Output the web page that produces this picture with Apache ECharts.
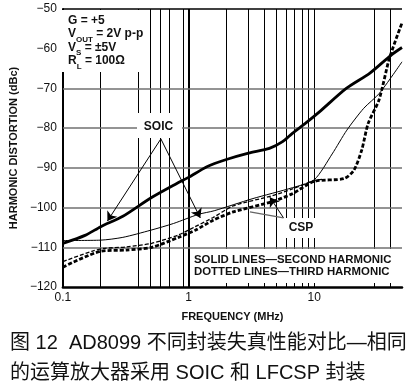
<!DOCTYPE html>
<html>
<head>
<meta charset="utf-8">
<script src="https://cdn.jsdelivr.net/npm/echarts@6/dist/echarts.min.js"></script>
<style>html,body{margin:0;padding:0;background:#fff;}#c{width:415px;height:389px;}</style>
</head>
<body>
<div id="c"></div>
<script>
// ---- data (frequency MHz, distortion dBc) ----
const freqSOIC2 = [0.1, 0.15, 0.2, 0.3, 0.5, 0.8, 1, 1.4, 2, 3, 4.4, 5.6, 6.7, 8.5, 11, 18, 27.6, 41, 50];
const dbSOIC2   = [-109, -107, -104.8, -102.2, -97.6, -94, -92.4, -89.7, -87.9, -86.3, -85.1, -83.4, -81.3, -78.8, -75.9, -70, -66.2, -61.6, -59.7];

const freqCSP2 = [0.1, 0.2, 0.3, 0.5, 0.76, 1.2, 1.6, 3.2, 6.7, 10, 13.9, 18.2, 24.8, 33.1, 50];
const dbCSP2   = [-108.3, -108.2, -107.5, -105.7, -104, -101.7, -100.8, -97.8, -95, -93, -86.5, -80.5, -75, -71.2, -63.3];

const freqSOIC3 = [0.1, 0.2, 0.32, 0.51, 0.83, 1.13, 1.57, 2.26, 4.66, 6.7, 10, 17.3, 20.7, 23.9, 26.9, 32.8, 39.7, 50];
const dbSOIC3   = [-115, -111, -110.7, -110, -107.5, -105.7, -103.2, -101.1, -98.5, -96.5, -93.4, -92.7, -90.6, -85.5, -78.8, -72.9, -62.4, -53.5];

const freqCSP3 = [0.1, 0.17, 0.21, 0.32, 0.51, 0.83, 1.13, 1.57, 2.26, 4.66, 6.7, 10, 11.6];
const dbCSP3   = [-113.6, -111, -110.3, -109.9, -109, -106.9, -104.8, -102.5, -99.6, -97, -95.3, -93.2, -92.9];

// grid lines present in the original figure
const vGrid = [0.2, 0.4, 0.5, 0.6, 0.7, 0.9, 1, 2, 3, 4, 5, 6, 7, 8, 9, 10, 30, 40];
const hGrid = [-70, -80, -90, -100, -110];
const xTickLabels = [0.1, 1, 10];

// annotation arrows [from, to] in data coordinates
const soicArrows = [[[0.602, -82.7], [0.226, -103.4]], [[0.602, -82.7], [1.24, -102.6]]];
const cspArrow = [[5.7, -102.6], [4.44, -97.4]];
const cspTail = [[5.7, -102.6], [3.08, -101.1]];

const zip = (a, b) => a.map((v, i) => [v, b[i]]);
const FONT = "'Liberation Sans', Arial, 'Noto Sans CJK SC', sans-serif";

const chart = echarts.init(document.getElementById('c'), null, {renderer: 'canvas'});

const gridLineData = vGrid.map(v => ({
  xAxis: v,
  lineStyle: {color: '#000', width: v === 1 ? 2 : 1, type: 'solid'}
})).concat(hGrid.map(v => ({
  yAxis: v,
  lineStyle: {color: '#707070', width: 1.5, type: 'solid'}
}))).concat([{yAxis: -50, lineStyle: {color: '#000', width: 1.5, type: 'solid'}}]);

chart.setOption({
  animation: false,
  backgroundColor: '#fff',
  grid: {left: 58, right: 13, top: 9, bottom: 102},
  xAxis: {
    type: 'log', logBase: 10, min: 0.1, max: 50,
    axisLine: {onZero: false, lineStyle: {color: '#000', width: 2.5}},
    axisTick: {show: false},
    splitLine: {show: false},
    axisLabel: {
      color: '#111', fontSize: 12, fontFamily: FONT, margin: 5,
      formatter: v => { const r = +Number(v).toPrecision(3); return xTickLabels.includes(r) ? String(r) : ''; }
    },
    name: 'FREQUENCY (MHz)', nameLocation: 'middle', nameGap: 24,
    nameTextStyle: {color: '#111', fontSize: 11, fontWeight: 'bold', fontFamily: FONT}
  },
  yAxis: {
    type: 'value', min: -120, max: -50, interval: 10,
    axisLine: {show: true, onZero: false, lineStyle: {color: '#000', width: 2}},
    axisTick: {show: false},
    splitLine: {show: false},
    axisLabel: {color: '#111', fontSize: 12, fontFamily: FONT, margin: 6,
      formatter: v => '\u2212' + Math.abs(v)},
    name: 'HARMONIC DISTORTION (dBc)', nameLocation: 'middle', nameGap: 35,
    nameTextStyle: {color: '#111', fontSize: 11, fontWeight: 'bold', fontFamily: FONT}
  },
  series: [
    {
      type: 'line', data: [[0.1, -120]], showSymbol: false, lineStyle: {opacity: 0}, silent: true,
      markLine: {silent: true, symbol: ['none', 'none'], z: 1, label: {show: false}, animation: false,
        data: gridLineData}
    },
    {
      name: 'SOIC second', type: 'line', z: 5, data: zip(freqSOIC2, dbSOIC2), showSymbol: false, smooth: 0.25,
      lineStyle: {color: '#000', width: 2.8}
    },
    {
      name: 'CSP second', type: 'line', z: 5, data: zip(freqCSP2, dbCSP2), showSymbol: false, smooth: 0.25,
      lineStyle: {color: '#000', width: 1}
    },
    {
      name: 'SOIC third', type: 'line', z: 5, data: zip(freqSOIC3, dbSOIC3), showSymbol: false, smooth: 0.25,
      lineStyle: {color: '#000', width: 2.8, type: [4, 2]}
    },
    {
      name: 'CSP third', type: 'line', z: 5, data: zip(freqCSP3, dbCSP3), showSymbol: false, smooth: 0.25,
      lineStyle: {color: '#000', width: 1.3, type: [4, 2]}
    },
    {
      type: 'lines', coordinateSystem: 'cartesian2d', z: 8, silent: true,
      symbol: ['none', 'arrow'], symbolSize: 9,
      lineStyle: {color: '#000', width: 1, opacity: 1},
      itemStyle: {color: '#000'},
      data: soicArrows.concat([cspArrow]).map(p => ({coords: p}))
    },
    {
      type: 'lines', coordinateSystem: 'cartesian2d', z: 8, silent: true,
      symbol: ['none', 'none'],
      lineStyle: {color: '#666', width: 1.3, opacity: 1},
      data: [{coords: cspTail}]
    }
  ],
  graphic: [
    // white boxes under annotation texts
    {type: 'rect', z: 3, shape: {x: 59, y: 10, width: 84, height: 62}, style: {fill: '#fff'}},
    {type: 'rect', z: 3, shape: {x: 137, y: 113, width: 45, height: 25}, style: {fill: '#fff'}},
    {type: 'rect', z: 3, shape: {x: 280, y: 218, width: 38, height: 20}, style: {fill: '#fff'}},
    {type: 'rect', z: 3, shape: {x: 192, y: 249, width: 211, height: 34}, style: {fill: '#fff'}},
    {type: 'text', z: 20, left: 68, top: 14, style: {
      text: 'G = +5\nV{s|OUT} = 2V p-p\nV{s|S} = \u00b15V\nR{s|L} = 100\u03a9',
      font: 'bold 12px ' + FONT, fill: '#111', lineHeight: 13.4,
      rich: {s: {font: 'bold 8px ' + FONT, fill: '#111', verticalAlign: 'bottom', lineHeight: 13.4, padding: [0, 0, -3, 0]}}
    }},
    {type: 'text', z: 20, x: 158.5, y: 127, style: {text: 'SOIC', font: 'bold 12px ' + FONT, fill: '#111', align: 'center', verticalAlign: 'middle'}},
    {type: 'text', z: 20, x: 301, y: 228, style: {text: 'CSP', font: 'bold 12px ' + FONT, fill: '#111', align: 'center', verticalAlign: 'middle'}},
    {type: 'text', z: 20, x: 194, y: 254, style: {text: 'SOLID LINES\u2014SECOND HARMONIC\nDOTTED LINES\u2014THIRD HARMONIC',
      font: 'bold 11.4px ' + FONT, fill: '#111', lineHeight: 12}},
    {type: 'text', z: 20, x: 10, y: 343, style: {text: '图 12  AD8099 不同封装失真性能对比—相同',
      font: '20px ' + FONT, fill: '#111', verticalAlign: 'middle'}},
    {type: 'text', z: 20, x: 10, y: 373, style: {text: '的运算放大器采用 SOIC 和 LFCSP 封装',
      font: '20px ' + FONT, fill: '#111', verticalAlign: 'middle'}}
  ]
});
</script>
</body>
</html>
